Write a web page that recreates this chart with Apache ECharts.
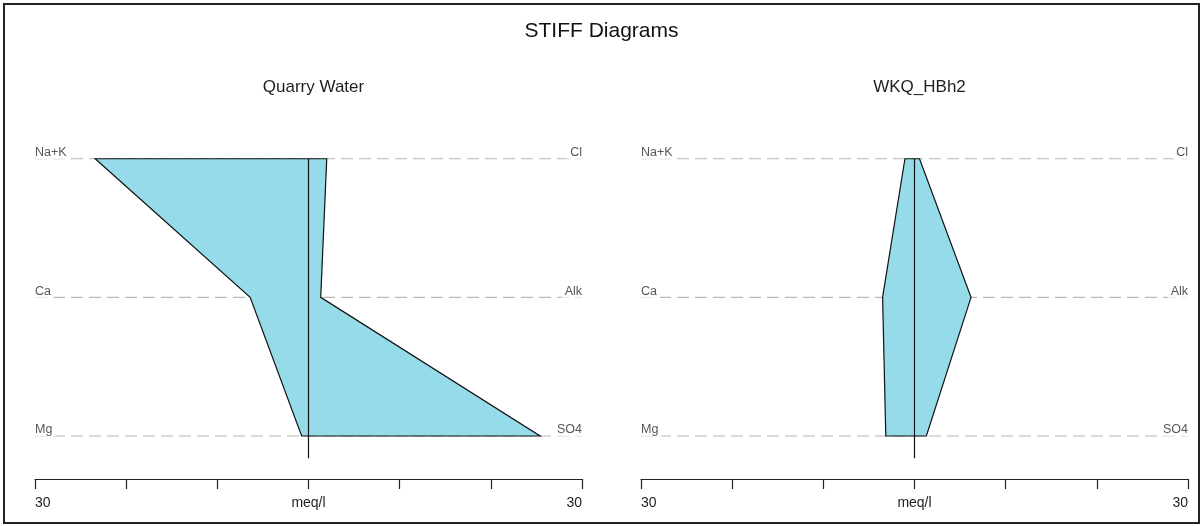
<!DOCTYPE html>
<html>
<head>
<meta charset="utf-8">
<script src="https://cdn.jsdelivr.net/npm/echarts@6/dist/echarts.min.js"></script>
<style>
html,body{margin:0;padding:0;background:#fff;}
#chart{width:1203px;height:526px;}
</style>
</head>
<body>
<div id="chart"></div>
<script>
// ---- data ----
const mainTitle = 'STIFF Diagrams';
const sampleNames = ['Quarry Water', 'WKQ_HBh2'];
const cationNames = ['Na+K', 'Ca', 'Mg'];
const anionNames = ['Cl', 'Alk', 'SO4'];
const rowLevels = [2, 1, 0];
const quarryCations = [23.4, 6.4, 0.75];
const quarryAnions = [2.0, 1.34, 25.4];
const hbh2Cations = [1.05, 3.5, 3.15];
const hbh2Anions = [0.55, 6.2, 1.3];
const xTickLabels = { '-30': '30', '0': 'meq/l', '30': '30' };

const panels = [
  { name: sampleNames[0], cations: quarryCations, anions: quarryAnions },
  { name: sampleNames[1], cations: hbh2Cations, anions: hbh2Anions }
];

const gridDefs = [
  { left: 35, width: 547, top: 131, height: 348 },
  { left: 641, width: 547, top: 131, height: 348 }
];

const textColor = '#1e1e1e';
const fontFam = '"Liberation Sans", Arial, sans-serif';

const grid = [], xAxis = [], yAxis = [], series = [], titles = [];
titles.push({
  text: mainTitle, left: 'center', top: 16,
  textStyle: { fontSize: 21, fontWeight: 'normal', color: '#111', fontFamily: fontFam }
});

panels.forEach((p, i) => {
  const g = gridDefs[i];
  grid.push(Object.assign({ containLabel: false }, g));
  titles.push({
    text: p.name, left: g.left + g.width / 2, textAlign: 'center', top: 74,
    textStyle: { fontSize: 17, fontWeight: 'normal', color: textColor, fontFamily: fontFam }
  });
  xAxis.push({
    type: 'value', gridIndex: i, min: -30, max: 30, interval: 10,
    axisLine: { show: true, onZero: false, lineStyle: { color: '#222', width: 1.2 } },
    axisTick: { show: true, inside: false, length: 10, lineStyle: { color: '#222', width: 1.2 } },
    splitLine: { show: false },
    axisLabel: {
      show: true, margin: 17, fontSize: 14, color: textColor, fontFamily: fontFam,
      alignMinLabel: 'left', alignMaxLabel: 'right',
      formatter: v => (xTickLabels[String(v)] !== undefined ? xTickLabels[String(v)] : '')
    }
  });
  yAxis.push({ type: 'value', gridIndex: i, min: -0.31, max: 2.2, show: false });

  // dashed guide lines
  rowLevels.forEach(lvl => {
    series.push({
      type: 'line', xAxisIndex: i, yAxisIndex: i, silent: true, z: 1,
      symbol: 'none', data: [[-30, lvl], [30, lvl]],
      lineStyle: { color: '#b8b8b8', width: 1.2, type: [12, 6] }
    });
  });

  // polygon points: cations on the left (negative), anions on the right
  const pts = [];
  p.cations.forEach((v, k) => pts.push([-v, rowLevels[k]]));
  for (let k = p.anions.length - 1; k >= 0; k--) pts.push([p.anions[k], rowLevels[k]]);

  series.push({
    type: 'custom', xAxisIndex: i, yAxisIndex: i, z: 2, silent: true, clip: false,
    data: pts,
    renderItem: (params, api) => {
      if (params.dataIndex !== 0) return null;
      const coords = pts.map(pt => api.coord(pt));
      return {
        type: 'polygon',
        shape: { points: coords },
        style: { fill: '#95dbe9', stroke: '#111', lineWidth: 1.2 }
      };
    }
  });

  // center line
  series.push({
    type: 'line', xAxisIndex: i, yAxisIndex: i, silent: true, z: 3,
    symbol: 'none', data: [[0, 2], [0, -0.16]],
    lineStyle: { color: '#111', width: 1.2 }
  });

  // row labels
  series.push({
    type: 'scatter', xAxisIndex: i, yAxisIndex: i, silent: true, z: 4,
    symbolSize: 0,
    data: cationNames.map((n, k) => ({ name: n, value: [-30, rowLevels[k]] })),
    label: {
      show: true, position: 'right', distance: 0, offset: [0, -6],
      formatter: '{b}', fontSize: 12.5, color: '#2a2a2a', fontFamily: fontFam,
      backgroundColor: '#fff', padding: [0, 3, 0, 0]
    }
  });
  series.push({
    type: 'scatter', xAxisIndex: i, yAxisIndex: i, silent: true, z: 4,
    symbolSize: 0,
    data: anionNames.map((n, k) => ({ name: n, value: [30, rowLevels[k]] })),
    label: {
      show: true, position: 'left', distance: 0, offset: [0, -6],
      formatter: '{b}', fontSize: 12.5, color: '#2a2a2a', fontFamily: fontFam,
      backgroundColor: '#fff', padding: [0, 0, 0, 3]
    }
  });
});

const chart = echarts.init(document.getElementById('chart'), null, { renderer: 'canvas' });
chart.setOption({
  backgroundColor: '#fff',
  animation: false,
  title: titles,
  grid: grid,
  xAxis: xAxis,
  yAxis: yAxis,
  series: series,
  graphic: [{
    type: 'rect', silent: true,
    shape: { x: 4, y: 4, width: 1195, height: 519 },
    style: { fill: 'none', stroke: '#222', lineWidth: 2 }
  }]
});
</script>
</body>
</html>
